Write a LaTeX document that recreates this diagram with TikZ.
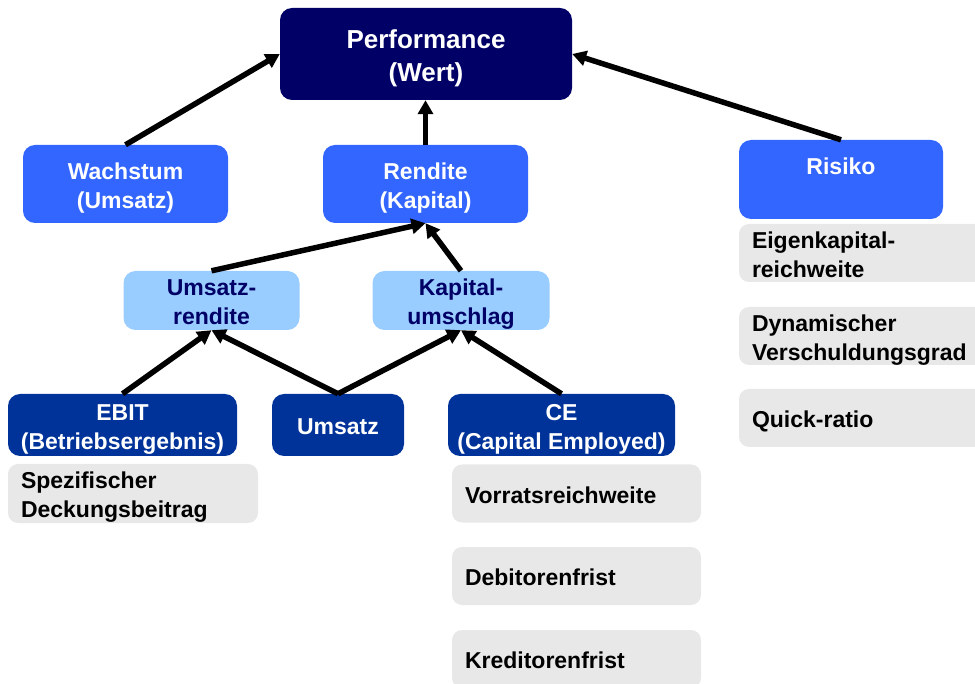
\documentclass[tikz,border=0pt]{standalone}
\usepackage{fontspec}
\setmainfont{Liberation Sans}
\usetikzlibrary{arrows.meta}

\definecolor{navy}{RGB}{0,0,102}
\definecolor{midblue}{RGB}{51,102,255}
\definecolor{deepblue}{RGB}{0,51,153}
\definecolor{paleblue}{RGB}{153,204,255}
\definecolor{panelgray}{RGB}{232,232,232}

% box text: rows set in a tabular, lowered a little without changing its size
\newcommand\boxtext[2][c]{\raisebox{-4pt}[\height][\depth]{\begin{tabular}{@{}#1@{}}#2\end{tabular}}}

\tikzset{
  box/.style={rectangle, rounded corners=12pt, inner sep=0pt, align=center,
    font=\bfseries\fontsize{23}{29}\selectfont},
  topbox/.style={box, fill=navy, text=white,
    font=\bfseries\fontsize{26}{33}\selectfont},
  mainbox/.style={box, fill=midblue, text=white},
  ratiobox/.style={box, fill=paleblue, text=navy},
  basebox/.style={box, fill=deepblue, text=white},
  notebox/.style={box, rounded corners=10pt, fill=panelgray, text=black,
    align=left, inner xsep=13pt},
  link/.style={line width=5.5pt, -{Triangle[length=14pt,width=15pt]}}
}

\begin{document}
\begin{tikzpicture}[x=1pt,y=-1pt]
  \clip (0,0) rectangle (975,684);

  % top level
  \node[topbox, minimum width=292pt, minimum height=92pt] (perf) at (426,54) {\boxtext{Performance\\(Wert)}};

  % value drivers
  \node[mainbox, minimum width=205pt, minimum height=78pt] (wachstum) at (125.5,184) {\boxtext{Wachstum\\(Umsatz)}};
  \node[mainbox, minimum width=205pt, minimum height=78pt] (rendite) at (425.5,184) {\boxtext{Rendite\\(Kapital)}};
  \node[mainbox, minimum width=204pt, minimum height=79pt] (risiko) at (841,179.5) {\boxtext{Risiko\\~}};

  % return components
  \node[ratiobox, minimum width=176pt, minimum height=59pt] (urendite) at (211.5,300.5) {\boxtext{Umsatz-\\rendite}};
  \node[ratiobox, minimum width=177pt, minimum height=59pt] (kumschlag) at (461,300.5) {\boxtext{Kapital-\\umschlag}};

  % base figures
  \node[basebox, minimum width=229pt, minimum height=62pt] (ebit) at (122.5,425) {\boxtext{EBIT\\(Betriebsergebnis)}};
  \node[basebox, minimum width=132pt, minimum height=62pt] (umsatz) at (338,425) {\boxtext{Umsatz}};
  \node[basebox, minimum width=227pt, minimum height=62pt] (ce) at (561.5,425) {\boxtext{CE\\(Capital Employed)}};

  % detail figures
  \node[notebox, text width=224pt, minimum height=59pt] (spez) at (133,493.5) {\boxtext[l]{Spezifischer\\Deckungsbeitrag}};
  \node[notebox, text width=223pt, minimum height=58pt] (vorrat) at (576.5,493.5) {\boxtext[l]{Vorratsreichweite}};
  \node[notebox, text width=223pt, minimum height=58pt] (debitor) at (576.5,576) {\boxtext[l]{Debitorenfrist}};
  \node[notebox, text width=223pt, minimum height=58pt] (kreditor) at (576.5,659) {\boxtext[l]{Kreditorenfrist}};

  \node[notebox, text width=235pt, minimum height=58pt] (eigenkap) at (869.5,253) {\boxtext[l]{Eigenkapital-\\reichweite}};
  \node[notebox, text width=235pt, minimum height=58pt] (dynam) at (869.5,336) {\boxtext[l]{Dynamischer\\Verschuldungsgrad}};
  \node[notebox, text width=235pt, minimum height=58pt] (quick) at (869.5,418) {\boxtext[l]{Quick-ratio}};

  % connectors
  \draw[link] (wachstum.north) -- (perf.west);
  \draw[link] (rendite.north) -- (rendite.north |- perf.south);
  \draw[link] (risiko.north) -- (perf.east);

  \draw[link] (urendite.north) -- (rendite.south);
  \draw[link] (kumschlag.north) -- (rendite.south);

  \draw[link] (ebit.north) -- (urendite.south);
  \draw[link] (umsatz.north) -- (urendite.south);
  \draw[link] (umsatz.north) -- (kumschlag.south);
  \draw[link] (ce.north) -- (kumschlag.south);
\end{tikzpicture}
\end{document}
